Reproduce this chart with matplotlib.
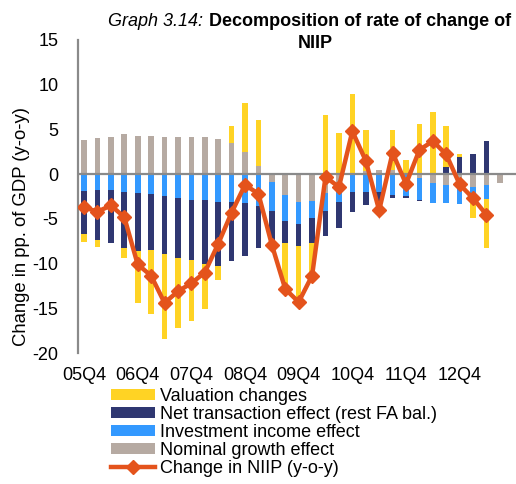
#!/usr/bin/env python3
import numpy as np
import matplotlib
matplotlib.use("Agg")
import matplotlib.pyplot as plt

plt.rcParams["font.family"] = ["Liberation Sans", "DejaVu Sans"]
plt.rcParams["axes.unicode_minus"] = False

quarters = [
    "05Q4", "06Q1", "06Q2", "06Q3", "06Q4", "07Q1", "07Q2", "07Q3",
    "07Q4", "08Q1", "08Q2", "08Q3", "08Q4", "09Q1", "09Q2", "09Q3",
    "09Q4", "10Q1", "10Q2", "10Q3", "10Q4", "11Q1", "11Q2", "11Q3",
    "11Q4", "12Q1", "12Q2", "12Q3", "12Q4", "13Q1", "13Q2", "13Q3",
]

# stacked in this order (first sits next to zero)
nominal_growth = [
    3.8, 4.0, 4.1, 4.45, 4.3, 4.3, 4.15, 4.15,
    4.2, 4.1, 3.9, 3.45, 2.5, 0.95, -0.85, -2.35,
    -3.1, -3.0, -2.1, -1.0, 0.0, 0.4, 0.5, 0.5,
    0.0, -0.4, -0.95, -1.25, -1.6, -1.4, -1.25, -0.95,
]
investment_income = [
    -1.9, -1.8, -1.75, -1.95, -2.1, -2.25, -2.4, -2.65,
    -2.85, -2.9, -3.15, -3.1, -3.25, -3.55, -3.25, -2.85,
    -2.45, -1.95, -2.0, -2.1, -1.95, -2.05, -2.05, -2.35,
    -2.4, -2.5, -2.3, -2.0, -1.75, -1.4, -1.5, 0.0,
]
net_transaction = [
    -4.8, -5.55, -5.95, -6.3, -6.55, -6.2, -6.5, -6.75,
    -6.7, -7.1, -7.1, -6.6, -5.9, -4.7, -4.1, -2.5,
    -2.5, -2.75, -2.85, -2.9, -2.25, -1.4, -1.5, -0.3,
    -0.25, -0.1, 0.0, 0.75, 1.9, 2.25, 3.7, 0.0,
]
valuation = [
    -0.9, -0.85, 0.1, -1.1, -5.75, -7.2, -9.55, -7.85,
    -6.9, -5.05, -1.55, 1.9, 5.45, 5.05, 0.0, -4.8,
    -6.6, -3.65, 6.6, 4.6, 8.95, 4.5, -1.0, 4.45,
    1.55, 5.6, 6.95, 4.65, 0.3, -2.15, -5.5, 0.0,
]
niip_change = [
    -3.7, -4.2, -3.5, -4.8, -10.1, -11.35, -14.4, -13.1,
    -12.2, -11.0, -7.8, -4.3, -1.2, -2.2, -7.9, -12.85,
    -14.3, -11.35, -0.3, -1.45, 4.8, 1.5, -4.05, 2.4,
    -1.1, 2.7, 3.7, 2.2, -1.15, -2.7, -4.55, np.nan,
]

C_VAL = "#FFD324"
C_NET = "#2F3771"
C_INV = "#3399FF"
C_NOM = "#B6AAA2"
C_LINE = "#E4531C"
C_AXIS = "#8A8A8A"
FS = 13


def stacked_bars(ax, x, series, colors, width=0.42):
    pos = np.zeros(len(x))
    neg = np.zeros(len(x))
    out = []
    for vals, color in zip(series, colors):
        vals = np.asarray(vals, dtype=float)
        bottom = np.where(vals >= 0, pos, neg)
        out.append(ax.bar(x, vals, width, bottom=bottom, color=color, linewidth=0, zorder=2))
        pos += np.clip(vals, 0, None)
        neg += np.clip(vals, None, 0)
    return out


def main():
    fig = plt.figure(figsize=(5.16, 4.84), dpi=100)
    ax = fig.add_axes([78 / 516, 131 / 484, 438 / 516, 313 / 484])

    x = np.arange(len(quarters))
    nom, inv, net, val = stacked_bars(
        ax, x,
        [nominal_growth, investment_income, net_transaction, valuation],
        [C_NOM, C_INV, C_NET, C_VAL],
    )
    line, = ax.plot(x, niip_change, color=C_LINE, lw=3.2, marker="D", ms=7,
                    zorder=4, solid_joinstyle="miter")

    ax.axhline(0, color=C_AXIS, lw=1.6, zorder=3)
    ax.set_xlim(-0.45, 32.2)
    ax.set_ylim(-20, 15)
    ax.set_yticks(range(-20, 16, 5))
    ax.set_xticks(x[::4])
    ax.set_xticklabels(quarters[::4])
    ax.tick_params(axis="both", length=0, labelsize=FS)
    ax.tick_params(axis="y", pad=14)
    ax.tick_params(axis="x", pad=10)
    for s in ("top", "right", "bottom"):
        ax.spines[s].set_visible(False)
    ax.spines["left"].set_color(C_AXIS)
    ax.spines["left"].set_linewidth(1.6)

    fig.text(22 / 516, 1 - 227 / 484, "Change in pp. of GDP (y-o-y)", rotation=90,
             ha="center", va="center", fontsize=13.3)

    fig.text(108 / 516, 1 - 22 / 484, "Graph 3.14:", style="italic",
             ha="left", va="center", fontsize=FS)
    fig.text(209 / 516, 1 - 22 / 484, "Decomposition of rate of change of",
             weight="bold", ha="left", va="center", fontsize=FS)
    fig.text(315 / 516, 1 - 44 / 484, "NIIP", weight="bold",
             ha="center", va="center", fontsize=FS)

    fig.legend(
        [val, net, inv, nom, line],
        ["Valuation changes", "Net transaction effect (rest FA bal.)",
         "Investment income effect", "Nominal growth effect", "Change in NIIP (y-o-y)"],
        loc="upper left", bbox_to_anchor=(111 / 516, 1 - 388 / 484),
        frameon=False, fontsize=FS, handlelength=2.45, handleheight=0.55,
        handletextpad=0.28, labelspacing=0.06, borderaxespad=0, borderpad=0,
    )

    fig.savefig("out.png", dpi=100)


if __name__ == "__main__":
    main()
